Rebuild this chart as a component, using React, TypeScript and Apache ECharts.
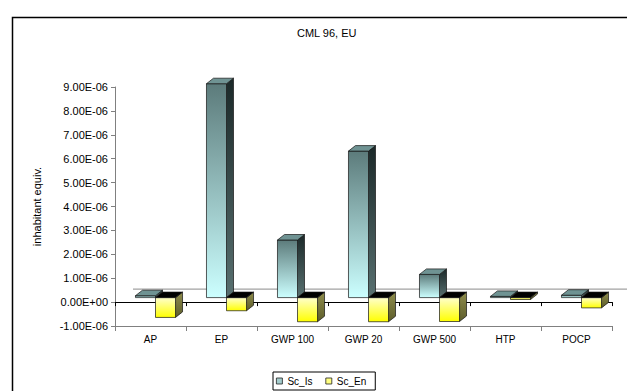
import React, { useEffect, useRef } from "react";
import * as echarts from "echarts";

// Impact categories and the two scenarios (inhabitant equivalents)
const categories = ["AP", "EP", "GWP 100", "GWP 20", "GWP 500", "HTP", "POCP"];
const scIs = [0.08e-6, 8.95e-6, 2.41e-6, 6.13e-6, 0.97e-6, 0.05e-6, 0.1e-6];
const scEn = [-0.83e-6, -0.55e-6, -1.01e-6, -1.01e-6, -1.0e-6, -0.08e-6, -0.43e-6];
const seriesNames = ["Sc_Is", "Sc_En"];
const chartTitle = "CML 96, EU";
const yAxisTitle = "inhabitant equiv.";
const yMin = -1e-6;
const yMax = 9e-6;
const yStep = 1e-6;

const FONT = "'Liberation Sans', Arial, Helvetica, sans-serif";

// 3D look: bars sit a little behind the front plane and have a small depth
const BAR_FRACTION = 0.282;
const SHIFT_X = 5;
const SHIFT_Y = -4.5;
const DEPTH_X = 7;
const DEPTH_Y = -5.5;
const FLOOR_DX = 18;
const FLOOR_DY = -13;

type Palette = {
  frontTop: string;
  frontBottom: string;
  sideTop: string;
  sideBottom: string;
  top: string;
  topNeg: string;
  legend: string;
};

const tealPalette: Palette = {
  frontTop: "#5c7b7b",
  frontBottom: "#ccffff",
  sideTop: "#1b2929",
  sideBottom: "#587070",
  top: "#6f9393",
  topNeg: "#000000",
  legend: "#a4cccc",
};

const yellowPalette: Palette = {
  frontTop: "#ffffcc",
  frontBottom: "#ffff00",
  sideTop: "#8e8c4c",
  sideBottom: "#5e5e2c",
  top: "#cccc66",
  topNeg: "#000000",
  legend: "#ffff80",
};

function sci(v: number): string {
  if (Math.abs(v) < 1e-15) return "0.00E+00";
  let e = Math.floor(Math.log10(Math.abs(v)) + 1e-9);
  let m = v / Math.pow(10, e);
  let ms = m.toFixed(2);
  if (Math.abs(parseFloat(ms)) >= 10) {
    e += 1;
    ms = (v / Math.pow(10, e)).toFixed(2);
  }
  const sign = e < 0 ? "-" : "+";
  const ae = Math.abs(e);
  return ms + "E" + sign + (ae < 10 ? "0" + ae : String(ae));
}

function vGrad(a: string, b: string) {
  return new echarts.graphic.LinearGradient(0, 0, 0, 1, [
    { offset: 0, color: a },
    { offset: 1, color: b },
  ]);
}

function boxRenderer(side: "left" | "right", pal: Palette) {
  return (_params: any, api: any) => {
    const i = api.value(0);
    const v = api.value(1);
    const band = api.size([1, 0])[0];
    const w = band * BAR_FRACTION;
    const p0 = api.coord([i, 0]);
    const p1 = api.coord([i, v]);
    const x0 = p0[0] + SHIFT_X - (side === "left" ? w : 0);
    const x1 = x0 + w;
    const yTop = Math.min(p0[1], p1[1]) + SHIFT_Y;
    const yBot = Math.max(p0[1], p1[1]) + SHIFT_Y;
    const h = Math.max(yBot - yTop, 0.6);
    const edge = { stroke: "#141414", lineWidth: 0.7, lineJoin: "round" };
    return {
      type: "group",
      children: [
        {
          type: "polygon",
          shape: {
            points: [
              [x1, yTop],
              [x1 + DEPTH_X, yTop + DEPTH_Y],
              [x1 + DEPTH_X, yTop + h + DEPTH_Y],
              [x1, yTop + h],
            ],
          },
          style: { fill: vGrad(pal.sideTop, pal.sideBottom), ...edge },
        },
        {
          type: "rect",
          shape: { x: x0, y: yTop, width: w, height: h },
          style: { fill: vGrad(pal.frontTop, pal.frontBottom), ...edge },
        },
        {
          type: "polygon",
          shape: {
            points: [
              [x0, yTop],
              [x0 + DEPTH_X, yTop + DEPTH_Y],
              [x1 + DEPTH_X, yTop + DEPTH_Y],
              [x1, yTop],
            ],
          },
          style: { fill: v >= 0 ? pal.top : pal.topNeg, ...edge },
        },
      ],
    };
  };
}

// back edge of the floor at zero level
const floorRenderer = (_params: any, api: any) => {
  const i = api.value(0);
  const band = api.size([1, 0])[0];
  const p = api.coord([i, 0]);
  return {
    type: "line",
    shape: {
      x1: p[0] - band / 2 + FLOOR_DX,
      y1: p[1] + FLOOR_DY,
      x2: p[0] + band / 2 + FLOOR_DX,
      y2: p[1] + FLOOR_DY,
    },
    style: { stroke: "#8a8a8a", lineWidth: 1 },
  };
};

export default function App() {
  const ref = useRef<HTMLDivElement>(null);

  useEffect(() => {
    if (!ref.current) return;
    const chart = echarts.init(ref.current, undefined, { renderer: "svg" });
    chart.setOption({
      animation: false,
      backgroundColor: "#ffffff",
      textStyle: { fontFamily: FONT },
      title: {
        text: chartTitle,
        left: 297,
        top: 27,
        padding: 0,
        textStyle: { fontSize: 11, fontWeight: "normal", color: "#000", fontFamily: FONT },
      },
      legend: {
        data: seriesNames,
        left: 273,
        top: 372,
        icon: "rect",
        itemWidth: 6,
        itemHeight: 6,
        itemGap: 13,
        padding: [4, 9, 4, 3],
        borderColor: "#000",
        borderWidth: 1,
        textStyle: { fontSize: 10, color: "#000", fontFamily: FONT },
        itemStyle: { borderColor: "#222", borderWidth: 0.8 },
      },
      grid: { left: 115, right: 15, top: 87, bottom: 65, containLabel: false },
      xAxis: [
        {
          type: "category",
          data: categories,
          position: "bottom",
          axisLine: { show: true, onZero: true, lineStyle: { color: "#000", width: 1 } },
          axisTick: { show: true, length: 4, lineStyle: { color: "#000" } },
          axisLabel: { show: false },
          splitLine: { show: false },
        },
        {
          type: "category",
          data: categories,
          position: "bottom",
          axisLine: { show: true, onZero: false, lineStyle: { color: "#808080", width: 1 } },
          axisTick: { show: true, length: 5, lineStyle: { color: "#808080" } },
          axisLabel: { show: true, interval: 0, fontSize: 10, color: "#000", margin: 8, fontFamily: FONT },
          splitLine: { show: false },
        },
      ],
      yAxis: {
        type: "value",
        min: yMin,
        max: yMax,
        interval: yStep,
        name: yAxisTitle,
        nameLocation: "middle",
        nameGap: 73,
        nameTextStyle: { fontSize: 11, color: "#000", fontFamily: FONT },
        axisLine: { show: true, lineStyle: { color: "#808080" } },
        axisTick: { show: true, length: 4, lineStyle: { color: "#808080" } },
        splitLine: { show: false },
        axisLabel: { fontSize: 11, color: "#000", margin: 7, fontFamily: FONT, formatter: (v: number) => sci(v) },
      },
      graphic: [
        {
          type: "rect",
          left: 10,
          top: 15,
          shape: { width: 1000, height: 1000 },
          style: { fill: "none", stroke: "#000", lineWidth: 1.5 },
          silent: true,
          z: -1,
        },
      ],
      series: [
        {
          type: "custom",
          name: "floor",
          xAxisIndex: 0,
          yAxisIndex: 0,
          silent: true,
          z: 1,
          renderItem: floorRenderer,
          data: categories.map((_c, i) => [i, 0]),
          encode: { x: 0, y: 1 },
        },
        {
          type: "custom",
          name: seriesNames[0],
          xAxisIndex: 0,
          yAxisIndex: 0,
          z: 2,
          itemStyle: { color: tealPalette.legend },
          renderItem: boxRenderer("left", tealPalette),
          data: scIs.map((v, i) => [i, v]),
          encode: { x: 0, y: 1 },
        },
        {
          type: "custom",
          name: seriesNames[1],
          xAxisIndex: 0,
          yAxisIndex: 0,
          z: 3,
          itemStyle: { color: yellowPalette.legend },
          renderItem: boxRenderer("right", yellowPalette),
          data: scEn.map((v, i) => [i, v]),
          encode: { x: 0, y: 1 },
        },
      ],
    });
    return () => chart.dispose();
  }, []);

  return (
    <div
      ref={ref}
      style={{ position: "absolute", left: 0, top: 0, width: 627, height: 391, background: "#fff" }}
    />
  );
}
